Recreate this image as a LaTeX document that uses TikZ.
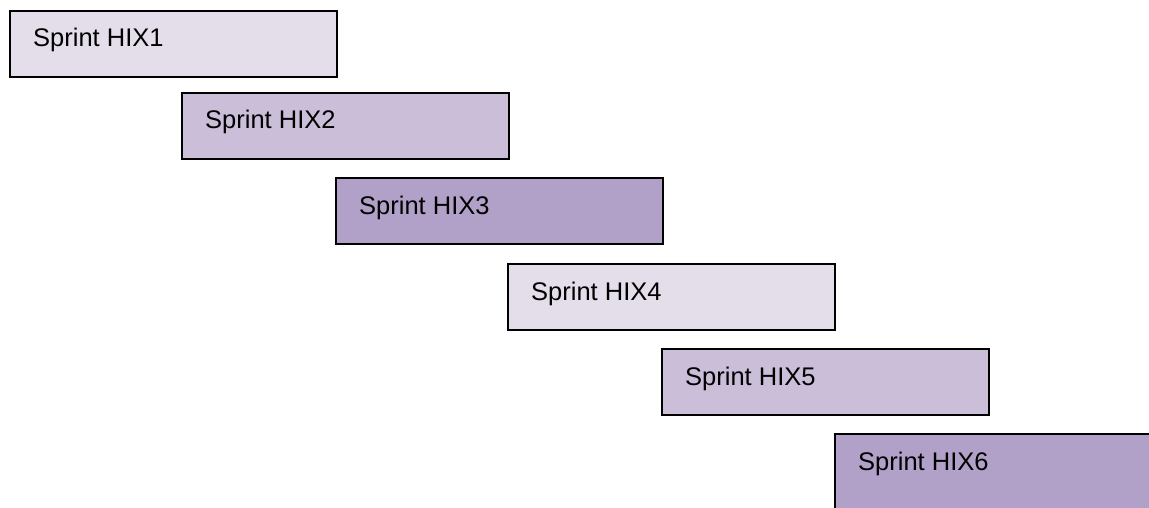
\documentclass[tikz,border=0pt]{standalone}
\usepackage{fontspec}
\setmainfont{Liberation Sans}
\usetikzlibrary{calc}
\definecolor{lightP}{HTML}{E4DEEB}
\definecolor{midP}{HTML}{CBBED9}
\definecolor{darkP}{HTML}{B1A1C8}
\tikzset{
  sprintbox/.style={draw=black, line width=2pt, rectangle, anchor=north west,
    minimum width=327pt, minimum height=66pt, inner sep=0pt, outer sep=0pt},
  sprintlabel/.style={anchor=base west, inner sep=0pt, font=\fontsize{25.5}{30}\selectfont}
}
\begin{document}
\begin{tikzpicture}[x=1pt,y=-1pt]
\useasboundingbox (0,0) rectangle (1149,508);
\clip (0,0) rectangle (1149,508);
\fill[white] (0,0) rectangle (1149,508);
\node[sprintbox, fill=lightP] (b1) at (10,11) {};
\node[sprintbox, fill=midP] (b2) at (182,93) {};
\node[sprintbox, fill=darkP] (b3) at (336,178) {};
\node[sprintbox, fill=lightP] (b4) at (508,264) {};
\node[sprintbox, fill=midP] (b5) at (662,349) {};
\node[sprintbox, fill=darkP, minimum height=100pt] (b6) at (835,434) {};
\node[sprintlabel] (t1) at ($(b1.north west)+(23,36)$) {Sprint HIX1};
\node[sprintlabel] (t2) at ($(b2.north west)+(23,36)$) {Sprint HIX2};
\node[sprintlabel] (t3) at ($(b3.north west)+(23,36)$) {Sprint HIX3};
\node[sprintlabel] (t4) at ($(b4.north west)+(23,36)$) {Sprint HIX4};
\node[sprintlabel] (t5) at ($(b5.north west)+(23,36)$) {Sprint HIX5};
\node[sprintlabel] (t6) at ($(b6.north west)+(23,36)$) {Sprint HIX6};
\end{tikzpicture}
\end{document}
